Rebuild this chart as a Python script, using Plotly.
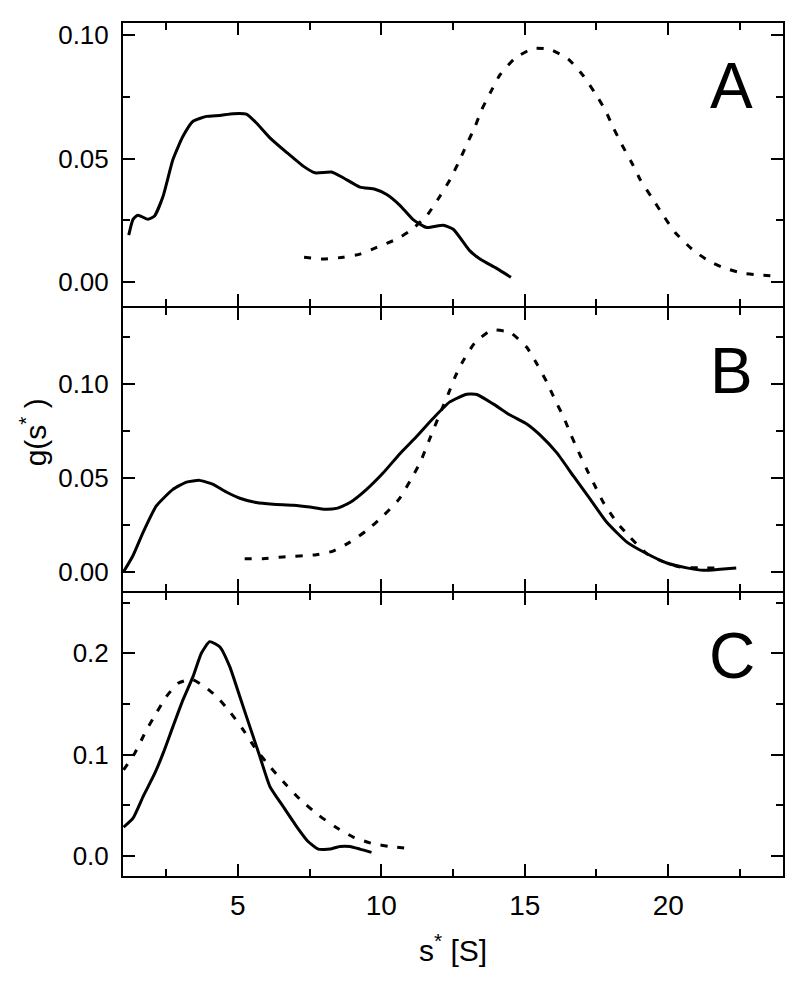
import plotly.graph_objects as go
from plotly.subplots import make_subplots

# Panel A
a_solid_x = [1.2, 1.35, 1.52, 1.87, 2.1, 2.4, 2.74, 3.09, 3.44, 3.91, 4.37, 4.84, 5.3, 5.65, 6.12, 6.7, 7.28, 7.69, 8.27, 8.67, 9.26, 9.78, 10.19, 10.65, 11.1, 11.58, 12.16, 12.51, 13.09, 13.44, 14.02, 14.52]
a_solid_y = [0.0189, 0.0253, 0.027, 0.0253, 0.0267, 0.0348, 0.0496, 0.059, 0.0651, 0.0671, 0.0675, 0.0682, 0.068, 0.0644, 0.0584, 0.0525, 0.0469, 0.0442, 0.0445, 0.0422, 0.0384, 0.0375, 0.0354, 0.031, 0.0253, 0.022, 0.0229, 0.0213, 0.0125, 0.0092, 0.0054, 0.0018]
a_dash_x = [7.31, 7.98, 8.67, 9.26, 9.84, 10.54, 11.0, 11.58, 12.05, 12.4, 12.69, 12.98, 13.27, 13.5, 13.79, 14.14, 14.66, 15.3, 15.88, 16.52, 17.04, 17.45, 17.8, 18.09, 18.38, 18.73, 19.02, 19.43, 19.84, 20.24, 20.83, 21.4, 21.99, 22.63, 23.21, 23.91]
a_dash_y = [0.0099, 0.0092, 0.0099, 0.0112, 0.0139, 0.0173, 0.0206, 0.0267, 0.0348, 0.0415, 0.0483, 0.0557, 0.063, 0.0698, 0.0765, 0.084, 0.0907, 0.0947, 0.0943, 0.0903, 0.0836, 0.0765, 0.0698, 0.0624, 0.0557, 0.0483, 0.0415, 0.0341, 0.0267, 0.02, 0.0132, 0.0085, 0.0054, 0.0034, 0.0027, 0.0022]

# Panel B
b_solid_x = [1.02, 1.35, 1.7, 2.16, 2.74, 3.21, 3.67, 4.14, 4.6, 5.07, 5.65, 6.23, 6.93, 7.51, 7.98, 8.44, 8.91, 9.49, 10.07, 10.65, 11.23, 11.81, 12.39, 12.98, 13.33, 13.91, 14.49, 15.07, 15.53, 16.12, 16.7, 17.28, 17.86, 18.56, 19.26, 19.95, 20.65, 21.23, 21.81, 22.37]
b_solid_y = [0.0, 0.0087, 0.021, 0.035, 0.0438, 0.0477, 0.0486, 0.0465, 0.0424, 0.0391, 0.0368, 0.0359, 0.0354, 0.0344, 0.0333, 0.0337, 0.0368, 0.0438, 0.0526, 0.0628, 0.0719, 0.0816, 0.0903, 0.0944, 0.0942, 0.0891, 0.0833, 0.0786, 0.0728, 0.0632, 0.0508, 0.0386, 0.0263, 0.0158, 0.0096, 0.0047, 0.0021, 0.0008, 0.0014, 0.0021]
b_dash_x = [5.24, 5.88, 6.58, 7.74, 8.32, 8.91, 9.49, 10.07, 10.62, 11.0, 11.35, 11.7, 12.05, 12.34, 12.57, 12.86, 13.27, 13.85, 14.49, 15.07, 15.42, 15.77, 16.06, 16.35, 16.61, 16.87, 17.16, 17.45, 17.74, 18.21, 18.67, 19.26, 19.84, 20.42, 21.06, 21.64]
b_dash_y = [0.007, 0.007, 0.0079, 0.0091, 0.011, 0.0158, 0.0219, 0.0298, 0.0386, 0.0482, 0.0579, 0.0711, 0.0842, 0.0947, 0.1035, 0.1123, 0.1219, 0.1284, 0.1272, 0.1193, 0.1105, 0.1008, 0.0912, 0.0824, 0.0728, 0.064, 0.0544, 0.0456, 0.0368, 0.0263, 0.0184, 0.0096, 0.0053, 0.0026, 0.0021, 0.0021]

# Panel C
c_solid_x = [1.02, 1.35, 1.7, 2.11, 2.4, 2.74, 3.09, 3.44, 3.73, 4.02, 4.37, 4.72, 5.07, 5.42, 5.77, 6.12, 6.58, 7.05, 7.45, 7.8, 8.21, 8.56, 8.91, 9.26, 9.66]
c_solid_y = [0.0283, 0.0372, 0.0585, 0.0816, 0.1014, 0.1276, 0.154, 0.177, 0.2001, 0.2116, 0.2066, 0.1869, 0.1573, 0.1276, 0.098, 0.0684, 0.0487, 0.0289, 0.0141, 0.0066, 0.0066, 0.0092, 0.0092, 0.0066, 0.0033]
c_dash_x = [1.02, 1.41, 1.82, 2.16, 2.51, 2.92, 3.39, 3.85, 4.26, 4.72, 5.19, 5.65, 6.12, 6.58, 7.16, 7.8, 8.38, 9.02, 9.72, 10.3, 10.9]
c_dash_y = [0.0849, 0.1014, 0.1244, 0.1409, 0.1573, 0.1705, 0.1744, 0.1671, 0.1573, 0.1424, 0.1244, 0.1046, 0.0882, 0.0733, 0.056, 0.0405, 0.0289, 0.0185, 0.0118, 0.0092, 0.0074]

x_tick_vals = [5, 10, 15, 20]
x_tick_text = ["5", "10", "15", "20"]
panel_labels = ["A", "B", "C"]

FONT = "Liberation Sans, Arial, sans-serif"

fig = make_subplots(rows=3, cols=1, shared_xaxes=True, vertical_spacing=0)

solid = dict(color="black", width=3, shape="spline", smoothing=0.5)
dashed = dict(color="black", width=3, dash="7px,10px", shape="spline", smoothing=0.5)

for r, (sx, sy, dx, dy) in enumerate([
    (a_solid_x, a_solid_y, a_dash_x, a_dash_y),
    (b_solid_x, b_solid_y, b_dash_x, b_dash_y),
    (c_solid_x, c_solid_y, c_dash_x, c_dash_y),
], start=1):
    fig.add_trace(go.Scatter(x=dx, y=dy, mode="lines", line=dashed, showlegend=False), row=r, col=1)
    fig.add_trace(go.Scatter(x=sx, y=sy, mode="lines", line=solid, showlegend=False), row=r, col=1)

axis_common = dict(
    showline=True, linecolor="black", linewidth=2, mirror="allticks",
    ticks="inside", ticklen=12, tickwidth=2, tickcolor="black",
    showgrid=False, zeroline=False, automargin=False,
)

# plot-area height in px = 973 - 15 - 105 = 853; leave a 2px gap so shared frame lines coincide
H = 853.0
g = 2.0 / H
domains = [[2 / 3 + g / 2, 1.0], [1 / 3 + g / 2, 2 / 3 - g / 2], [0.0, 1 / 3 - g / 2]]

for r in (1, 2, 3):
    fig.update_xaxes(
        range=[1, 24], tickmode="array", tickvals=x_tick_vals, ticktext=x_tick_text,
        minor=dict(ticks="inside", ticklen=7, tickwidth=2, tickcolor="black",
                   tickvals=[2.5, 7.5, 12.5, 17.5, 22.5]),
        showticklabels=(r == 3), ticklabelstandoff=3,
        tickfont=dict(family=FONT, size=28, color="black"),
        row=r, col=1, **axis_common)

yfont = dict(family=FONT, size=26, color="black")
fig.update_yaxes(range=[-0.01, 0.105], tickvals=[0.0, 0.05, 0.10], tickformat=".2f",
                 minor=dict(ticks="inside", ticklen=7, tickwidth=2, tickcolor="black", tickvals=[0.025, 0.075]),
                 ticklabelstandoff=7, tickfont=yfont, domain=domains[0], row=1, col=1, **axis_common)
fig.update_yaxes(range=[-0.01, 0.14], tickvals=[0.0, 0.05, 0.10], tickformat=".2f",
                 minor=dict(ticks="inside", ticklen=7, tickwidth=2, tickcolor="black", tickvals=[0.025, 0.075, 0.125]),
                 ticklabelstandoff=7, tickfont=yfont, domain=domains[1], row=2, col=1, **axis_common)
fig.update_yaxes(range=[-0.02, 0.26], tickvals=[0.0, 0.1, 0.2], tickformat=".1f",
                 minor=dict(ticks="inside", ticklen=7, tickwidth=2, tickcolor="black", tickvals=[0.05, 0.15, 0.25]),
                 ticklabelstandoff=7, tickfont=yfont, domain=domains[2], row=3, col=1, **axis_common)

fig.update_xaxes(title=dict(text="s<sup>*</sup> [S]", font=dict(family=FONT, size=30, color="black"), standoff=20), row=3, col=1)

for i, lab in enumerate(panel_labels):
    fig.add_annotation(text=lab, xref=f"x{'' if i == 0 else i + 1} domain", yref=f"y{'' if i == 0 else i + 1} domain",
                       x=0.922, y=0.778, xanchor="center", yanchor="middle", showarrow=False,
                       font=dict(family=FONT, size=64, color="black"))

fig.add_annotation(text="g(s<sup>*</sup> )", xref="paper", yref="paper", x=-0.135, y=0.52,
                   textangle=-90, showarrow=False, xanchor="center", yanchor="middle",
                   font=dict(family=FONT, size=30, color="black"))

# page body adds an 8px offset; size the figure so the plot frame lands where the reference has it
fig.update_layout(
    width=792, height=973,
    margin=dict(l=115, r=17, t=15, b=105),
    paper_bgcolor="white", plot_bgcolor="white",
)

fig.write_html("out.html")
